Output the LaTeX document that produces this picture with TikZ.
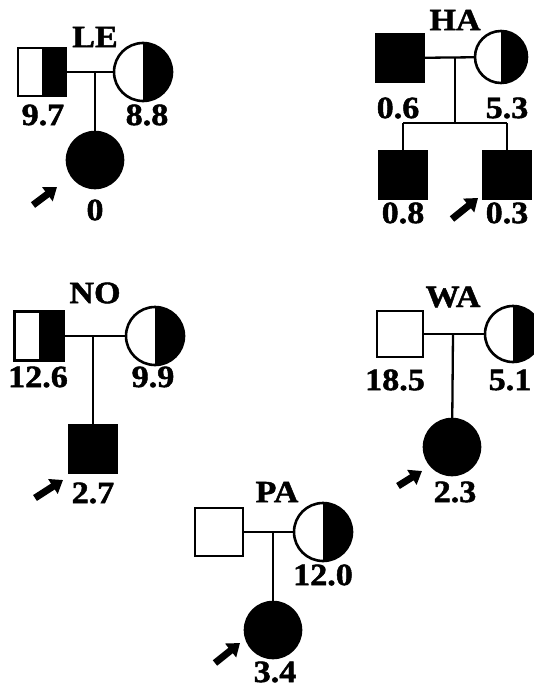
\documentclass[tikz,border=0pt]{standalone}
\usepackage{fontspec}
\setmainfont{Liberation Serif}[FakeStretch=1.1,FakeBold=1.5]
\usetikzlibrary{arrows.meta}
\tikzset{
  male/.style={rectangle, draw, line width=2.6pt, inner sep=0pt, outer sep=0pt, minimum size=#1},
  male/.default=48pt,
  female/.style={circle, draw, line width=2.6pt, inner sep=0pt, outer sep=0pt, minimum size=#1},
  female/.default=57pt,
  aff/.style={fill=black},
  halfaff/.style={path picture={\fill[black] (path picture bounding box.north) rectangle (path picture bounding box.south east);}},
  lbl/.style={font=\fontsize{31}{33}\selectfont\bfseries, inner sep=0pt},
  link/.style={line width=2.3pt},
  proband/.style={line width=7pt, -{Triangle[length=12pt,width=17pt]}},
}
\begin{document}
\begin{tikzpicture}[x=1pt,y=1pt]
\useasboundingbox (0,0) rectangle (534,-688);
\clip (0,0) rectangle (534,-688);
% LE
\node[male, halfaff] (lef) at (42,-72) {};
\node[female=58pt, halfaff] (lem) at (143,-72) {};
\node[female=56pt, aff] (lec) at (95,-160) {};
\coordinate (lej) at (95,-72);
\draw[link] (lef) -- (lem);
\draw[link] (lej) -- (lec);
\node[lbl] (lel) at (95,-37) {LE};
\node[lbl] (lefv) at (43,-115) {9.7};
\node[lbl] (lemv) at (147,-115) {8.8};
\node[lbl] (lecv) at (95,-210) {0};
\coordinate (lea1) at (33,-205); \coordinate (lea2) at (57,-187);
\draw[proband] (lea1) -- (lea2);
% HA
\node[male=47pt, aff] (haf) at (400,-58) {};
\node[female=52pt, halfaff] (ham) at (501,-57) {};
\coordinate (haj) at (455,-57);
\coordinate (has) at (455,-123);
\coordinate (hasl) at (403,-123);
\coordinate (hasr) at (507,-123);
\node[male=47pt, aff] (hac1) at (403,-175) {};
\node[male=47pt, aff] (hac2) at (507,-175) {};
\draw[link] (haf) -- (ham);
\draw[link] (haj) -- (has);
\draw[link] (hasl) -- (hasr);
\draw[link] (hasl) -- (hac1);
\draw[link] (hasr) -- (hac2);
\node[lbl] (hal) at (455,-20) {HA};
\node[lbl] (hafv) at (398,-108) {0.6};
\node[lbl] (hamv) at (507,-108) {5.3};
\node[lbl] (hac1v) at (403,-213) {0.8};
\node[lbl] (hac2v) at (507,-213) {0.3};
\coordinate (haa1) at (452,-219); \coordinate (haa2) at (478,-198);
\draw[proband] (haa1) -- (haa2);
% NO
\node[male=49pt, halfaff] (nof) at (39,-336) {};
\node[female=58pt, halfaff] (nom) at (155,-336) {};
\coordinate (noj) at (93,-336);
\node[male=48pt, aff] (noc) at (93,-449) {};
\draw[link] (nof) -- (nom);
\draw[link] (noj) -- (noc);
\node[lbl] (nol) at (95,-293) {NO};
\node[lbl] (nofv) at (38,-377) {12.6};
\node[lbl] (nomv) at (153,-377) {9.9};
\node[lbl] (nocv) at (93,-493) {2.7};
\coordinate (noa1) at (35,-498); \coordinate (noa2) at (63,-480);
\draw[proband] (noa1) -- (noa2);
% WA
\node[male=46pt] (waf) at (400,-334) {};
\node[female=56pt, halfaff] (wam) at (513,-334) {};
\coordinate (waj) at (453,-334);
\node[female=56pt, aff] (wac) at (452,-447) {};
\draw[link] (waf) -- (wam);
\draw[link] (waj) -- (wac);
\node[lbl] (wal) at (453,-297) {WA};
\node[lbl] (wafv) at (395,-380) {18.5};
\node[lbl] (wamv) at (510,-380) {5.1};
\node[lbl] (wacv) at (455,-492) {2.3};
\coordinate (waa1) at (398,-486); \coordinate (waa2) at (422,-471);
\draw[proband] (waa1) -- (waa2);
% PA
\node[male=48pt] (paf) at (219,-532) {};
\node[female=58pt, halfaff] (pam) at (323,-532) {};
\coordinate (paj) at (273,-532);
\node[female=56pt, aff] (pac) at (273,-630) {};
\draw[link] (paf) -- (pam);
\draw[link] (paj) -- (pac);
\node[lbl] (pal) at (277,-492) {PA};
\node[lbl] (pamv) at (323,-575) {12.0};
\node[lbl] (pacv) at (275,-672) {3.4};
\coordinate (paa1) at (215,-663); \coordinate (paa2) at (240,-643);
\draw[proband] (paa1) -- (paa2);
\end{tikzpicture}
\end{document}
